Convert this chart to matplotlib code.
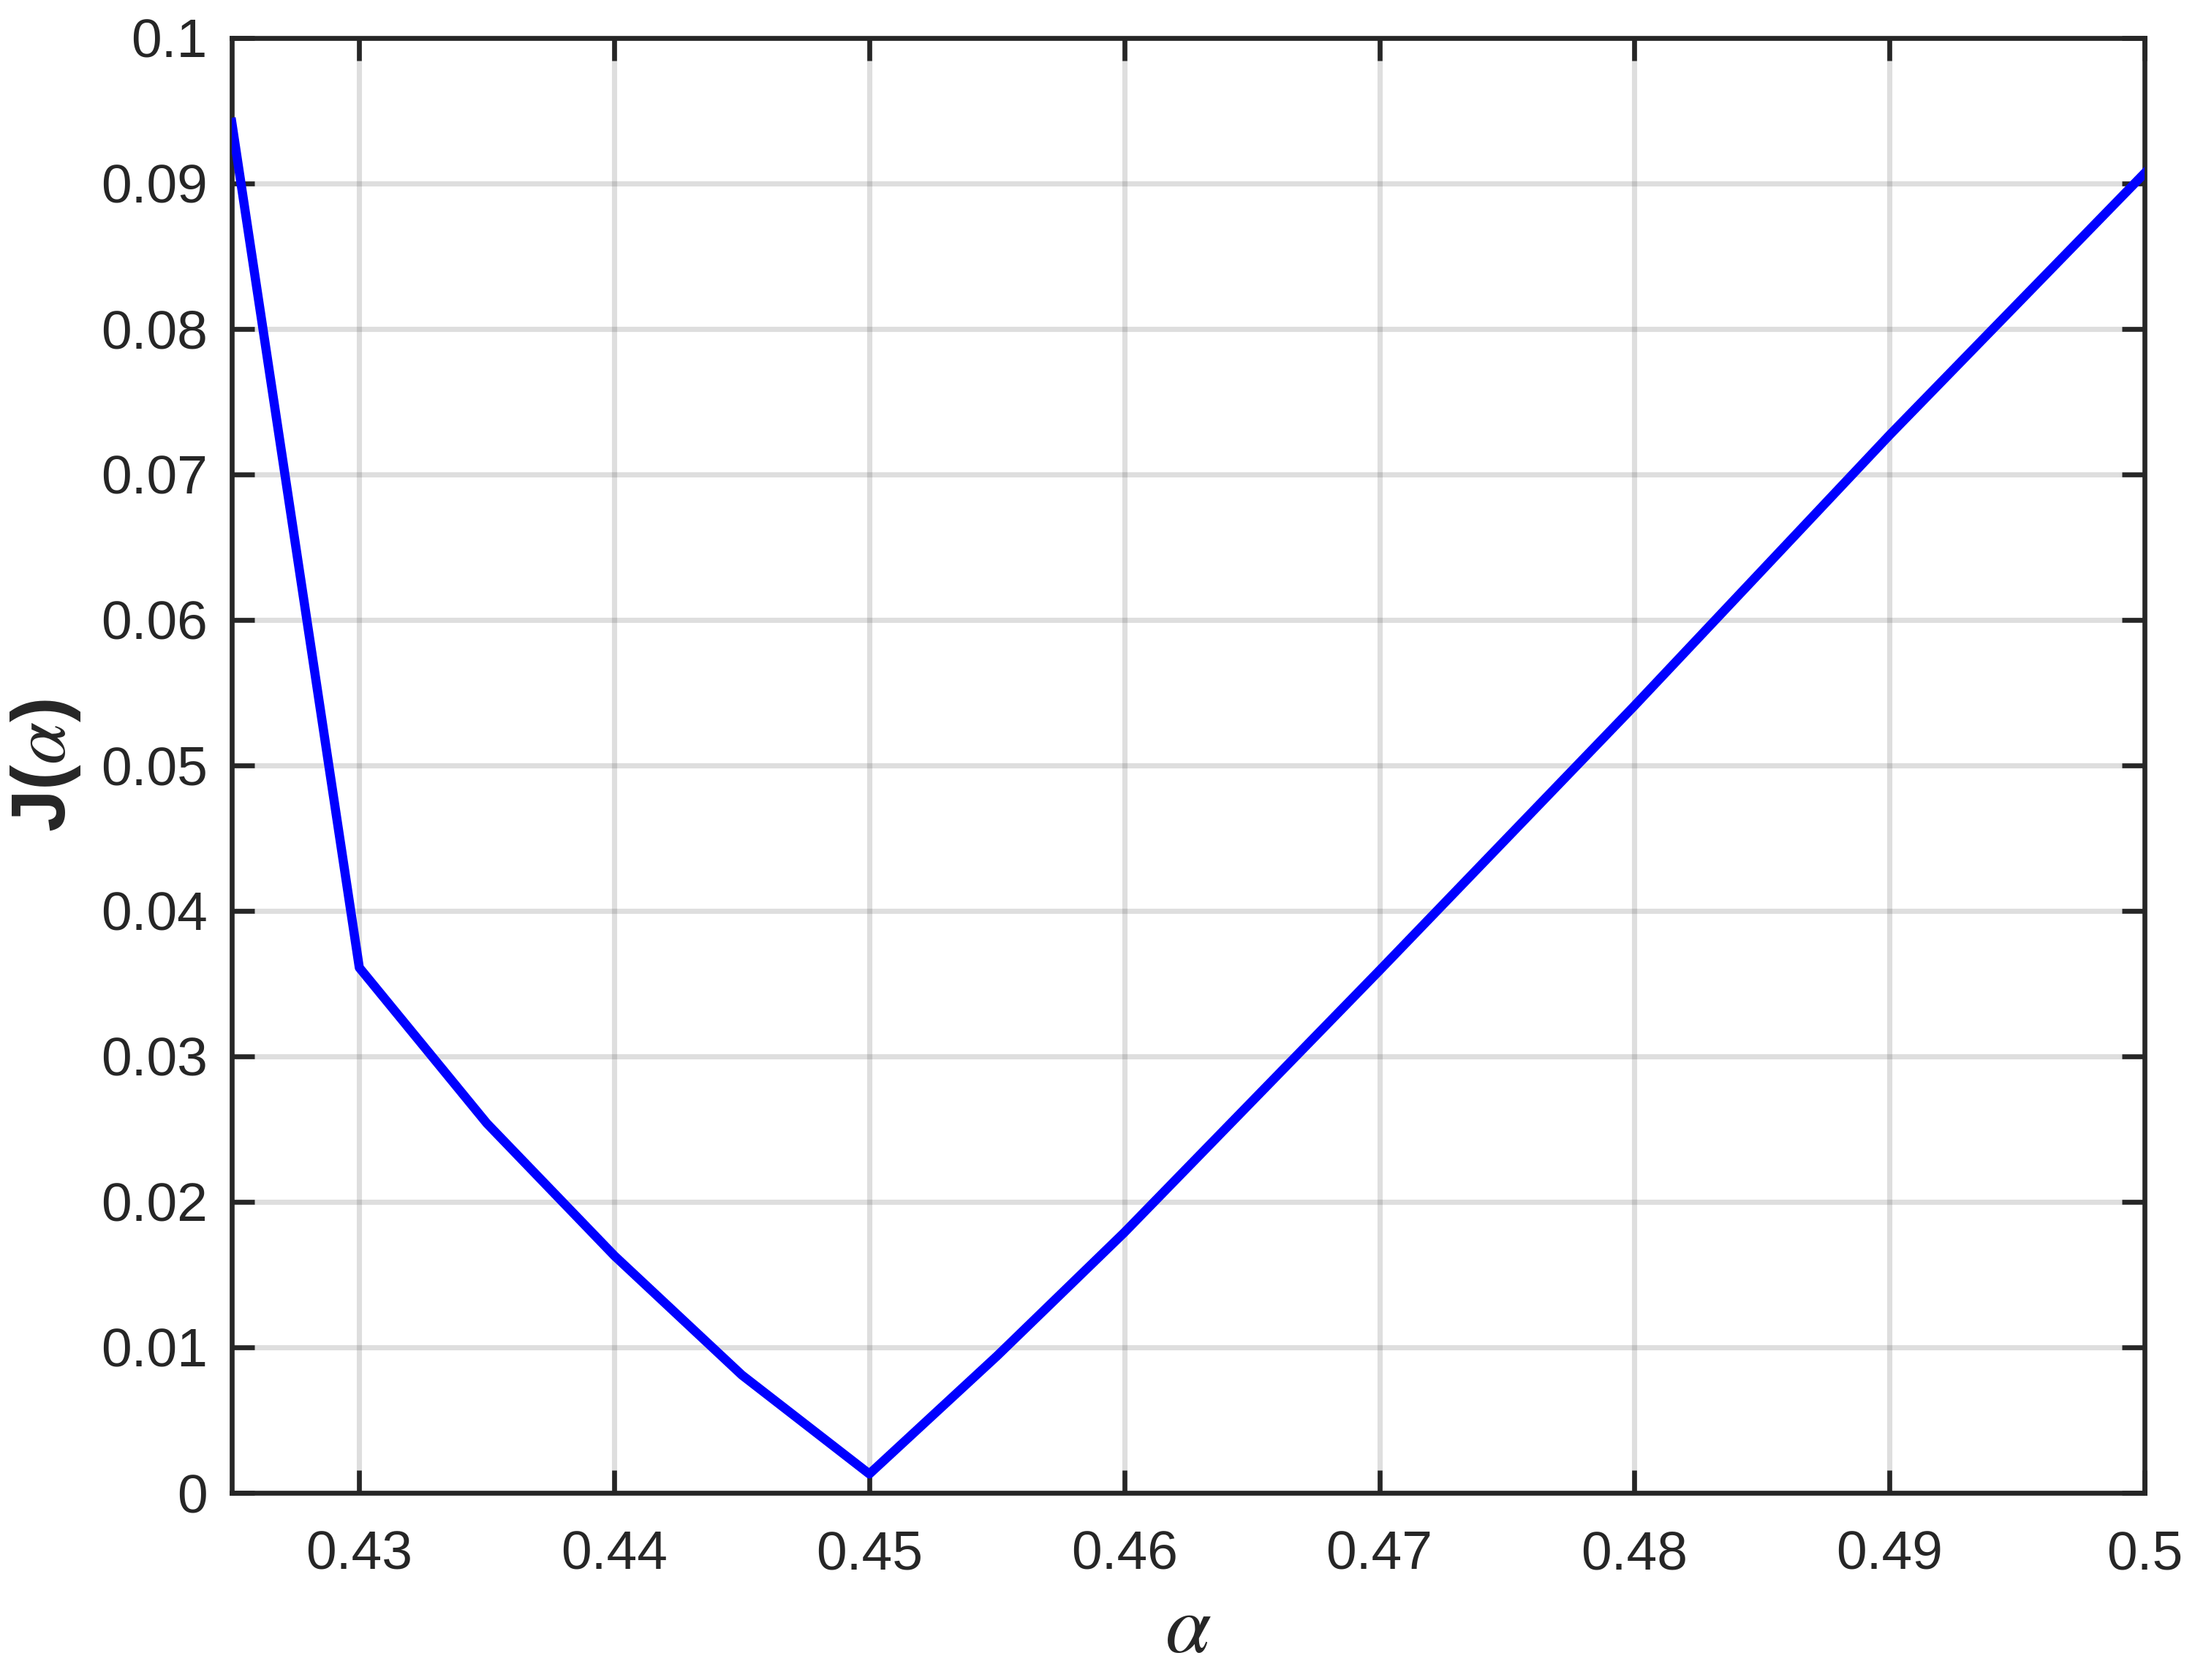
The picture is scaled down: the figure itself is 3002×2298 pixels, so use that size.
import numpy as np
from matplotlib import pyplot as plt

# alpha values and cost J(alpha)
alpha = [0.425, 0.430, 0.435, 0.440, 0.445, 0.450, 0.455, 0.460,
         0.465, 0.470, 0.475, 0.480, 0.485, 0.490, 0.495, 0.500]
J = [0.0942, 0.0361, 0.0254, 0.0163, 0.0081, 0.0013, 0.0094, 0.0179,
     0.0269, 0.0359, 0.0450, 0.0541, 0.0634, 0.0727, 0.0817, 0.0907]

xticks = [0.43, 0.44, 0.45, 0.46, 0.47, 0.48, 0.49, 0.5]
xticklabels = ['0.43', '0.44', '0.45', '0.46', '0.47', '0.48', '0.49', '0.5']
yticks = [0, 0.01, 0.02, 0.03, 0.04, 0.05, 0.06, 0.07, 0.08, 0.09, 0.1]
yticklabels = ['0', '0.01', '0.02', '0.03', '0.04', '0.05', '0.06', '0.07', '0.08', '0.09', '0.1']

plt.rcParams['font.family'] = ['Liberation Sans', 'DejaVu Sans']
plt.rcParams['mathtext.fontset'] = 'stix'

dark = (0.15, 0.15, 0.15)

fig = plt.figure(figsize=(3002 / 300, 2298 / 300), dpi=300)
ax = fig.add_axes([0.1056, 0.1114, 0.977 - 0.1056, 0.9774 - 0.1114])

ax.plot(alpha, J, color='#0000ff', linewidth=3.0, zorder=3)

ax.set_xlim(0.425, 0.5)
ax.set_ylim(0, 0.1)
ax.set_xticks(xticks)
ax.set_xticklabels(xticklabels)
ax.set_yticks(yticks)
ax.set_yticklabels(yticklabels)

ax.grid(True, color=dark, alpha=0.15, linewidth=1.7)
ax.set_axisbelow(True)

for s in ax.spines.values():
    s.set_color(dark)
    s.set_linewidth(1.6)

ax.tick_params(axis='both', direction='in', length=7.5, width=1.6, color=dark,
               labelcolor=dark, labelsize=18, top=True, right=True)
ax.tick_params(axis='x', pad=12)
ax.tick_params(axis='y', pad=8)

ax.set_xlabel(r'$\alpha$', fontsize=27, color=dark, labelpad=4)
ax.set_ylabel(r'J($\alpha$)', fontsize=25, fontweight='bold', color=dark, labelpad=6)

fig.savefig('out.png', dpi=300, facecolor='white')
